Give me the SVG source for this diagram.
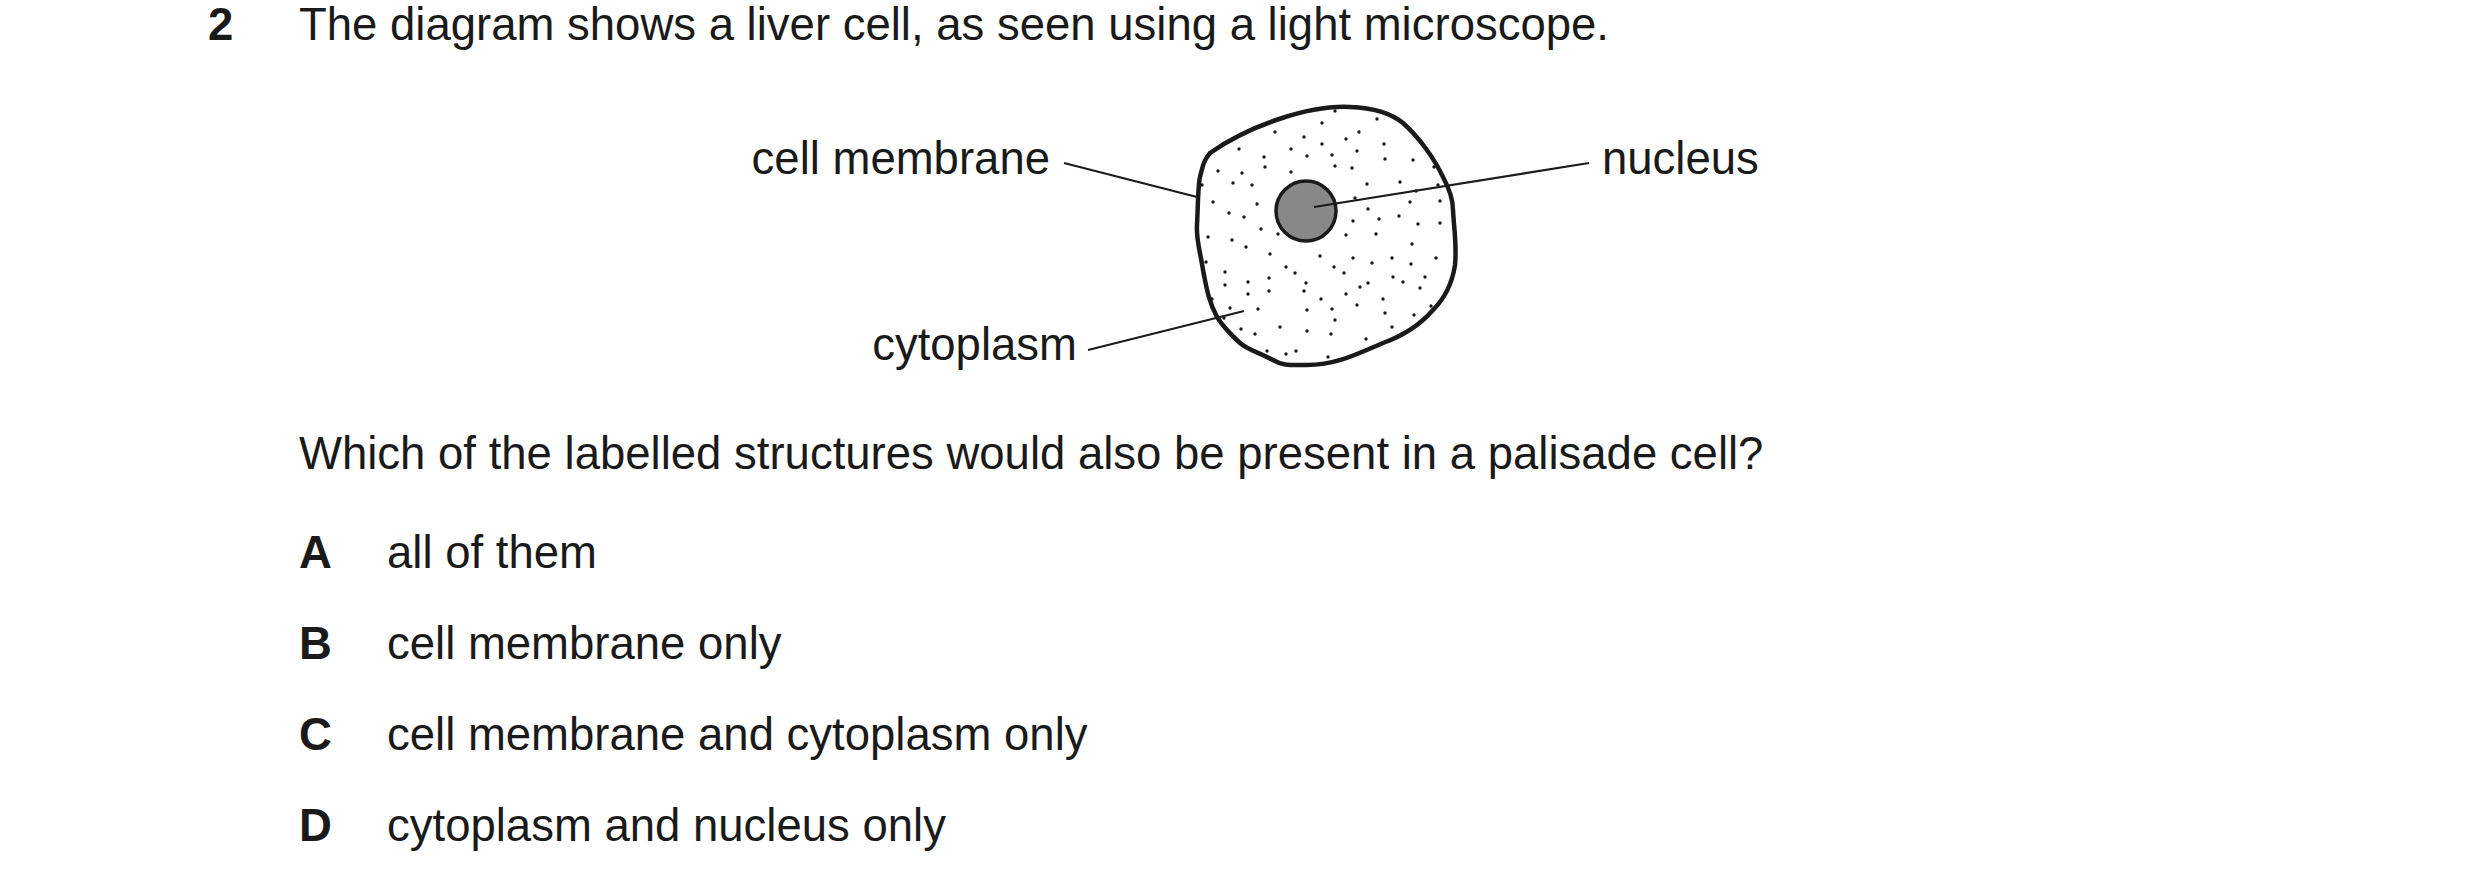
<svg xmlns="http://www.w3.org/2000/svg" width="2480" height="888" viewBox="0 0 2480 888">
<style>
text{font-family:"Liberation Sans",Arial,sans-serif;font-size:45.5px;fill:#1a1a1a}
.b{font-weight:bold}
.e{text-anchor:end}
.l{stroke:#1a1a1a;stroke-width:2.2;fill:none}
.d circle{fill:#1a1a1a}
</style>
<rect width="2480" height="888" fill="#fff"/>
<text x="208" y="40" class="b">2</text>
<text x="299" y="40">The diagram shows a liver cell, as seen using a light microscope.</text>
<g id="cell">
<path d="M1210,153 C1250,125 1310,105 1350,107 C1375,108 1392,114 1403,123 C1420,138 1435,160 1443,177 C1450,190 1453,200 1453,210 C1454,230 1457,245 1455,265 C1452,285 1445,298 1433,310 C1420,325 1405,335 1383,343 C1355,355 1335,365 1307,365 C1290,365 1283,366 1273,360 C1258,352 1248,350 1240,343 C1228,332 1222,325 1217,317 C1208,300 1206,285 1203,270 C1200,250 1196,240 1197,225 C1198,205 1198,185 1200,177 C1203,165 1204,160 1210,153 Z" fill="#fff" stroke="#1a1a1a" stroke-width="4.5"/>
<g class="d">
<circle cx="1322" cy="123" r="1.7"/><circle cx="1377" cy="119" r="1.7"/><circle cx="1275" cy="132" r="1.7"/><circle cx="1304" cy="137" r="1.7"/><circle cx="1359" cy="132" r="1.7"/><circle cx="1239" cy="149" r="1.7"/><circle cx="1291" cy="149" r="1.7"/><circle cx="1322" cy="144" r="1.7"/><circle cx="1346" cy="139" r="1.7"/><circle cx="1384" cy="144" r="1.7"/><circle cx="1264" cy="157" r="1.7"/><circle cx="1307" cy="156" r="1.7"/><circle cx="1332" cy="155" r="1.7"/><circle cx="1357" cy="151" r="1.7"/><circle cx="1385" cy="159" r="1.7"/><circle cx="1413" cy="160" r="1.7"/><circle cx="1218" cy="171" r="1.7"/><circle cx="1242" cy="173" r="1.7"/><circle cx="1265" cy="167" r="1.7"/><circle cx="1291" cy="172" r="1.7"/><circle cx="1335" cy="166" r="1.7"/><circle cx="1352" cy="168" r="1.7"/><circle cx="1434" cy="167" r="1.7"/><circle cx="1233" cy="183" r="1.7"/><circle cx="1252" cy="185" r="1.7"/><circle cx="1367" cy="184" r="1.7"/><circle cx="1400" cy="182" r="1.7"/><circle cx="1416" cy="191" r="1.7"/><circle cx="1438" cy="185" r="1.7"/><circle cx="1213" cy="202" r="1.7"/><circle cx="1257" cy="204" r="1.7"/><circle cx="1355" cy="198" r="1.7"/><circle cx="1410" cy="202" r="1.7"/><circle cx="1440" cy="201" r="1.7"/><circle cx="1229" cy="213" r="1.7"/><circle cx="1244" cy="217" r="1.7"/><circle cx="1368" cy="209" r="1.7"/><circle cx="1379" cy="219" r="1.7"/><circle cx="1399" cy="216" r="1.7"/><circle cx="1353" cy="221" r="1.7"/><circle cx="1418" cy="224" r="1.7"/><circle cx="1440" cy="223" r="1.7"/><circle cx="1208" cy="237" r="1.7"/><circle cx="1232" cy="240" r="1.7"/><circle cx="1261" cy="229" r="1.7"/><circle cx="1278" cy="234" r="1.7"/><circle cx="1346" cy="235" r="1.7"/><circle cx="1376" cy="234" r="1.7"/><circle cx="1412" cy="244" r="1.7"/><circle cx="1246" cy="247" r="1.7"/><circle cx="1270" cy="254" r="1.7"/><circle cx="1320" cy="256" r="1.7"/><circle cx="1353" cy="258" r="1.7"/><circle cx="1372" cy="263" r="1.7"/><circle cx="1392" cy="258" r="1.7"/><circle cx="1411" cy="264" r="1.7"/><circle cx="1436" cy="258" r="1.7"/><circle cx="1206" cy="262" r="1.7"/><circle cx="1286" cy="267" r="1.7"/><circle cx="1295" cy="273" r="1.7"/><circle cx="1334" cy="267" r="1.7"/><circle cx="1344" cy="273" r="1.7"/><circle cx="1225" cy="272" r="1.7"/><circle cx="1248" cy="282" r="1.7"/><circle cx="1269" cy="278" r="1.7"/><circle cx="1306" cy="283" r="1.7"/><circle cx="1368" cy="283" r="1.7"/><circle cx="1393" cy="277" r="1.7"/><circle cx="1403" cy="282" r="1.7"/><circle cx="1425" cy="277" r="1.7"/><circle cx="1225" cy="285" r="1.7"/><circle cx="1248" cy="294" r="1.7"/><circle cx="1269" cy="291" r="1.7"/><circle cx="1304" cy="291" r="1.7"/><circle cx="1346" cy="294" r="1.7"/><circle cx="1360" cy="287" r="1.7"/><circle cx="1420" cy="288" r="1.7"/><circle cx="1321" cy="299" r="1.7"/><circle cx="1383" cy="299" r="1.7"/><circle cx="1230" cy="308" r="1.7"/><circle cx="1258" cy="309" r="1.7"/><circle cx="1307" cy="310" r="1.7"/><circle cx="1332" cy="309" r="1.7"/><circle cx="1357" cy="305" r="1.7"/><circle cx="1385" cy="313" r="1.7"/><circle cx="1414" cy="315" r="1.7"/><circle cx="1431" cy="306" r="1.7"/><circle cx="1224" cy="318" r="1.7"/><circle cx="1335" cy="320" r="1.7"/><circle cx="1241" cy="329" r="1.7"/><circle cx="1255" cy="334" r="1.7"/><circle cx="1280" cy="327" r="1.7"/><circle cx="1307" cy="331" r="1.7"/><circle cx="1331" cy="334" r="1.7"/><circle cx="1392" cy="327" r="1.7"/><circle cx="1366" cy="339" r="1.7"/><circle cx="1267" cy="351" r="1.7"/><circle cx="1286" cy="354" r="1.7"/><circle cx="1296" cy="351" r="1.7"/><circle cx="1328" cy="357" r="1.7"/><circle cx="1335" cy="111" r="1.7"/><circle cx="1202" cy="185" r="1.7"/><circle cx="1212" cy="299" r="1.7"/>
</g>
<circle id="nucleus" cx="1306" cy="211" r="30" fill="#888" stroke="#1a1a1a" stroke-width="3.5"/>
</g>
<g id="connectors">
<line class="l" x1="1064" y1="163" x2="1197" y2="197"/>
<line class="l" x1="1589" y1="163" x2="1314" y2="207"/>
<line class="l" x1="1088" y1="350" x2="1244" y2="311"/>
</g>
<g id="labels">
<text x="1050" y="174" class="e">cell membrane</text>
<text x="1602" y="174">nucleus</text>
<text x="1077" y="360" class="e">cytoplasm</text>
</g>
<text x="299" y="469">Which of the labelled structures would also be present in a palisade cell?</text>
<g id="options">
<text x="299" y="568" class="b">A</text><text x="387" y="568">all of them</text>
<text x="299" y="659" class="b">B</text><text x="387" y="659">cell membrane only</text>
<text x="299" y="750" class="b">C</text><text x="387" y="750">cell membrane and cytoplasm only</text>
<text x="299" y="841" class="b">D</text><text x="387" y="841">cytoplasm and nucleus only</text>
</g>
</svg>
